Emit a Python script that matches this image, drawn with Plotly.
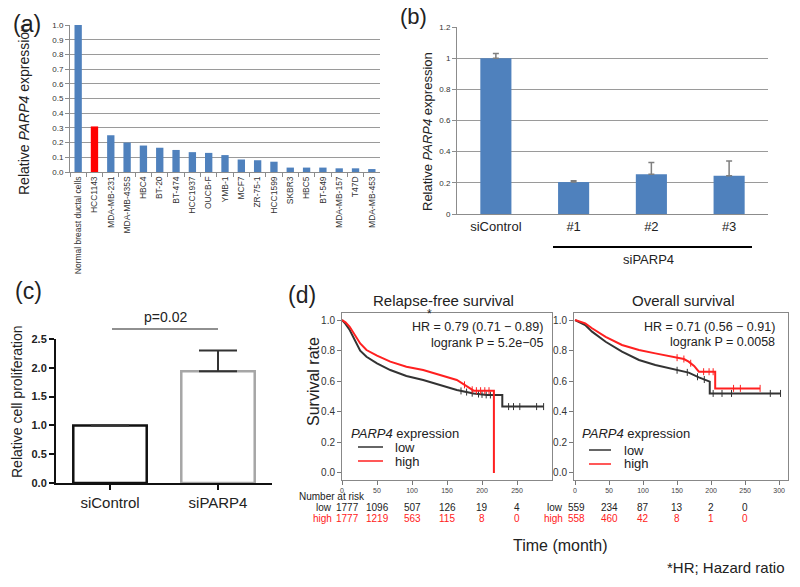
import numpy as np
import plotly.graph_objects as go

# (a) PARP4 expression in breast cancer cell lines
cell_lines = ["Normal breast ductal cells", "HCC1143", "MDA-MB-231", "MDA-MB-435S", "HBC4",
              "BT-20", "BT-474", "HCC1937", "OUCB-F", "YMB-1", "MCF7", "ZR-75-1", "HCC1599",
              "SKBR3", "HBC5", "BT-549", "MDA-MB-157", "T47D", "MDA-MB-453"]
cell_expr = [1.0, 0.31, 0.25, 0.20, 0.18, 0.165, 0.15, 0.135, 0.13, 0.115, 0.085, 0.08,
             0.07, 0.03, 0.03, 0.03, 0.025, 0.025, 0.02]

# (b) knockdown
si_groups = ["siControl", "#1", "#2", "#3"]
si_expr = [1.0, 0.205, 0.255, 0.245]
si_err = [0.03, 0.008, 0.075, 0.095]

# (c) proliferation
prolif_groups = ["siControl", "siPARP4"]
prolif_vals = [1.0, 1.94]
prolif_err = [0.0, 0.36]

# (d) Kaplan-Meier, relapse-free survival
rfs_low_t = [0, 5, 11, 19, 26, 35, 50, 69, 92, 116, 140, 164, 188, 207, 229, 229, 288]
rfs_low_s = [1.0, 0.975, 0.935, 0.86, 0.80, 0.76, 0.717, 0.673, 0.634, 0.608, 0.575,
             0.542, 0.52, 0.51, 0.51, 0.434, 0.434]
rfs_high_t = [0, 5, 11, 19, 26, 35, 50, 69, 92, 116, 140, 164, 183, 188, 217, 217]
rfs_high_s = [1.0, 0.985, 0.956, 0.90, 0.847, 0.804, 0.767, 0.728, 0.695, 0.673, 0.64,
              0.608, 0.553, 0.538, 0.538, 0.0]
rfs_low_cens = [170, 178, 186, 195, 200, 206, 212, 238, 245, 254, 278, 288]
rfs_high_cens = [175, 186, 192, 198, 204, 210]

# (d) overall survival
os_low_t = [0, 15, 25, 45, 69, 94, 118, 143, 167, 182, 198, 198, 302]
os_low_s = [1.0, 0.967, 0.924, 0.858, 0.793, 0.739, 0.706, 0.678, 0.656, 0.625, 0.597,
            0.52, 0.52]
os_high_t = [0, 15, 25, 45, 69, 94, 118, 143, 160, 167, 175, 182, 206, 206, 272]
os_high_s = [1.0, 0.978, 0.946, 0.89, 0.837, 0.804, 0.782, 0.76, 0.745, 0.728, 0.70,
             0.662, 0.662, 0.553, 0.553]
os_low_cens = [150, 165, 180, 190, 203, 216, 230, 287, 302]
os_high_cens = [150, 160, 170, 189, 197, 203, 233, 243, 272]

risk_times = [0, 50, 100, 150, 200, 250]
rfs_risk_low = [1777, 1096, 507, 126, 19, 4]
rfs_risk_high = [1777, 1219, 563, 115, 8, 0]
os_risk_low = [559, 234, 87, 13, 2, 0]
os_risk_high = [558, 460, 42, 8, 1, 0]

W, H = 800, 587
FONT = "Liberation Sans, Arial, sans-serif"
BLUE = "#4f81bd"
RED = "#ff2020"


def px(x):
    return x / W


def py(y):
    return 1 - y / H


fig = go.Figure()

# ---- (a)
fig.add_trace(go.Bar(
    x=cell_lines, y=cell_expr, width=0.45,
    marker_color=[BLUE, "#ff0000"] + [BLUE] * (len(cell_lines) - 2),
    xaxis="x", yaxis="y", showlegend=False))

# ---- (b)
fig.add_trace(go.Bar(
    x=si_groups, y=si_expr, width=0.4, marker_color=BLUE,
    error_y=dict(type="data", array=si_err, arrayminus=[0] * 4, symmetric=False,
                 color="#7f7f7f", thickness=1.5, width=3),
    xaxis="x2", yaxis="y2", showlegend=False))

# ---- (c)
fig.add_trace(go.Bar(
    x=prolif_groups, y=prolif_vals, width=0.68,
    marker=dict(color="white", line=dict(color=["#111111", "#a6a6a6"], width=2.5)),
    error_y=dict(type="data", array=prolif_err, arrayminus=[0, 0], symmetric=False,
                 color="#333333", thickness=2, width=19),
    xaxis="x3", yaxis="y3", showlegend=False))


# ---- (d) KM curves
def km(t, s, cens, color, xa, ya):
    fig.add_trace(go.Scatter(x=t, y=s, mode="lines", line=dict(color=color, width=2),
                             xaxis=xa, yaxis=ya, showlegend=False))
    cy = np.interp(cens, t, s)
    fig.add_trace(go.Scatter(x=cens, y=cy, mode="markers",
                             marker=dict(symbol="line-ns-open", size=5, color=color,
                                         line=dict(color=color, width=1)),
                             xaxis=xa, yaxis=ya, showlegend=False))


km(rfs_low_t, rfs_low_s, rfs_low_cens, "#333333", "x4", "y4")
km(rfs_high_t, rfs_high_s, rfs_high_cens, RED, "x4", "y4")
km(os_low_t, os_low_s, os_low_cens, "#333333", "x5", "y5")
km(os_high_t, os_high_s, os_high_cens, RED, "x5", "y5")

grey_axis = dict(showline=True, linecolor="#8c8c8c", linewidth=1, zeroline=False,
                 automargin=False)
km_axis = dict(mirror=True, showgrid=False, showline=True, linecolor="#888",
               zeroline=False, automargin=False, ticks="outside", ticklen=4,
               tickcolor="#777")

fig.update_layout(
    template="none",
    width=W, height=H, margin=dict(l=0, r=0, t=0, b=0, autoexpand=False),
    paper_bgcolor="white", plot_bgcolor="white",
    font=dict(family=FONT, color="#222222"),
    xaxis=dict(domain=[px(70), px(380)], anchor="y", type="category", tickangle=-90,
               tickson="boundaries", ticks="outside", ticklen=4, tickcolor="#8c8c8c",
               tickfont=dict(size=8.5, color="#333"), showgrid=False, **grey_axis),
    yaxis=dict(domain=[py(172), py(25)], anchor="x", range=[0, 1.0], dtick=0.1,
               tickformat=".1f", ticks="outside", ticklen=4, tickcolor="#8c8c8c",
               tickfont=dict(size=8, color="#333"), showgrid=True, gridcolor="#9a9a9a",
               gridwidth=1, **grey_axis),
    xaxis2=dict(domain=[px(457), px(768)], anchor="y2", type="category", ticks="",
                showgrid=False, tickfont=dict(size=13, color="#222"), **grey_axis),
    yaxis2=dict(domain=[py(214), py(27)], anchor="x2", range=[0, 1.2], dtick=0.2,
                ticks="outside", ticklen=4, tickcolor="#8c8c8c",
                tickfont=dict(size=8, color="#333"), showgrid=True, gridcolor="#9a9a9a",
                **grey_axis),
    xaxis3=dict(domain=[px(56), px(272)], anchor="y3", type="category", range=[-0.5, 1.5],
                ticks="outside", ticklen=5, tickwidth=2, tickcolor="#111", showline=True,
                linecolor="#111", linewidth=2, showgrid=False, zeroline=False,
                automargin=False, tickfont=dict(size=15, color="#222")),
    yaxis3=dict(domain=[py(483), py(339)], anchor="x3", range=[0, 2.5], dtick=0.5,
                tickformat=".1f", ticks="outside", ticklen=5, tickwidth=2, tickcolor="#111",
                showline=True, linecolor="#111", linewidth=2, showgrid=False, zeroline=False,
                automargin=False, tickfont=dict(size=11, color="#222", weight="bold")),
    xaxis4=dict(domain=[px(342), px(552)], anchor="y4", range=[0, 300],
                tickvals=[0, 50, 100, 150, 200, 250], tickfont=dict(size=7, color="#444"),
                **km_axis),
    yaxis4=dict(domain=[py(480), py(313)], anchor="x4", range=[-0.046, 1.046], dtick=0.2,
                tickformat=".1f", tickfont=dict(size=10, color="#333"), **km_axis),
    xaxis5=dict(domain=[px(574), px(788)], anchor="y5", range=[-1.5, 313],
                tickvals=[0, 50, 100, 150, 200, 250, 300],
                tickfont=dict(size=7, color="#444"), **km_axis),
    yaxis5=dict(domain=[py(480), py(313)], anchor="x5", range=[-0.046, 1.046], dtick=0.2,
                tickformat=".1f", tickfont=dict(size=10, color="#333"), **km_axis),
)

ann = []


def text(x, y, s, size, **kw):
    d = dict(x=px(x), y=py(y), xref="paper", yref="paper", text=s, showarrow=False,
             font=dict(size=size, family=FONT, color=kw.pop("color", "#222")),
             xanchor=kw.pop("xanchor", "center"), yanchor=kw.pop("yanchor", "middle"))
    d.update(kw)
    ann.append(d)


# panel labels
text(27, 24, "(a)", 23)
text(414, 16, "(b)", 22)
text(28, 291, "(c)", 23)
text(302, 295, "(d)", 23)

# axis titles
text(24, 110, "Relative <i>PARP4</i> expression", 14, textangle=-90)
text(428, 132, "Relative <i>PARP4</i> expression", 13, textangle=-90)
text(17, 402, "Relative cell proliferation", 14, textangle=-90)
text(314, 382, "Survival rate", 16, textangle=-90)

# (b) siPARP4 bracket
text(648, 259, "siPARP4", 13)
# (c) p value
text(165, 317, "p=0.02", 14)

# (d) titles & stats
text(443, 300, "Relapse-free survival", 15)
text(683, 300, "Overall survival", 15)
text(545, 327, "HR = 0.79 (0.71 \u2212 0.89)", 12.5, xanchor="right")
text(545, 343, "logrank P = 5.2e\u221205", 12.5, xanchor="right")
text(429, 314, "*", 12)
text(777, 327, "HR = 0.71 (0.56 \u2212 0.91)", 12.5, xanchor="right")
text(777, 342, "logrank P = 0.0058", 12.5, xanchor="right")

# legends
for lx, tx, ly in [(349, 393, 447), (580, 622, 450)]:
    text(lx, 433, "<i>PARP4</i> expression", 13, xanchor="left")
    text(tx, ly, "low", 13, xanchor="left")
    text(tx, ly + 14, "high", 13, xanchor="left")

# number at risk
RS = 10
text(298, 496, "Number at risk", RS, xanchor="left", borderpad=0)
text(333, 507, "low", RS, xanchor="right", borderpad=0)
text(333, 518, "high", RS, xanchor="right", color=RED, borderpad=0)
text(564, 507, "low", RS, xanchor="right", borderpad=0)
text(564, 518, "high", RS, xanchor="right", color=RED, borderpad=0)
for xa, low, high, first_shift in [("x4", rfs_risk_low, rfs_risk_high, 5),
                                   ("x5", os_risk_low, os_risk_high, 1)]:
    for i, t in enumerate(risk_times):
        for yv, vals, col in [(507, low, "#222"), (518, high, RED)]:
            ann.append(dict(x=t, xref=xa, y=py(yv), yref="paper", text=str(vals[i]),
                            showarrow=False, xshift=first_shift if i == 0 else 0,
                            xanchor="center", yanchor="middle", borderpad=0,
                            font=dict(size=RS, family=FONT, color=col)))

text(560, 545, "Time (month)", 16)
text(787, 567, "*HR; Hazard ratio", 15, xanchor="right")

fig.update_layout(annotations=ann)

shapes = [
    dict(type="line", xref="paper", yref="paper", x0=px(553), x1=px(752), y0=py(247),
         y1=py(247), line=dict(color="black", width=2)),
    dict(type="line", xref="paper", yref="paper", x0=px(112), x1=px(218), y0=py(329),
         y1=py(329), line=dict(color="#222", width=1.2)),
]
for x0, x1, ly in [(358, 383, 447), (589, 611, 450)]:
    shapes.append(dict(type="line", xref="paper", yref="paper", x0=px(x0), x1=px(x1),
                       y0=py(ly), y1=py(ly), line=dict(color="#333", width=1.5)))
    shapes.append(dict(type="line", xref="paper", yref="paper", x0=px(x0), x1=px(x1),
                       y0=py(ly + 14), y1=py(ly + 14), line=dict(color=RED, width=1.5)))
fig.update_layout(shapes=shapes)

# drop the default page margin so the figure sits at the window corner
fig.write_html("out.html", config={"displayModeBar": False},
               post_script="document.body.style.margin = '0px';")
